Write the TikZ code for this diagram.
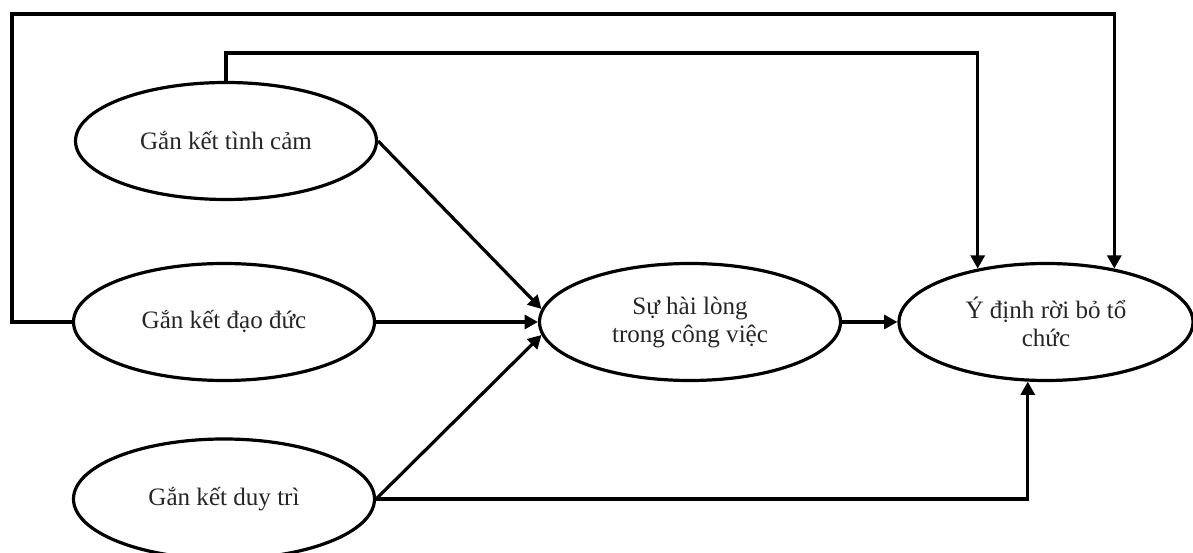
\documentclass[tikz,border=0pt]{standalone}
\usepackage{fontspec}
\setmainfont{Liberation Serif}
\usetikzlibrary{shapes.geometric,arrows.meta}
\begin{document}
\begin{tikzpicture}[x=0.75pt,y=0.75pt,
  line width=2.4pt,
  construct/.style={ellipse,draw,inner sep=0pt,minimum width=225.75pt,minimum height=87.75pt,
    align=center,font=\fontsize{18.8}{21}\selectfont,text=black!85},
  link/.style={-{Triangle[length=10pt,width=10.5pt]}}]
\useasboundingbox (0,0) rectangle (1193,553);
% constructs
\node[construct] (E1) at (226,412) {Gắn kết tình cảm};
\node[construct] (E2) at (224,231) {Gắn kết đạo đức};
\node[construct,minimum height=90pt] (E3) at (224,54) {Gắn kết duy trì};
\node[construct] (E4) at (690,231) {Sự hài lòng\\trong công việc};
\node[construct,minimum width=220.5pt] (E5) at (1046,231) {Ý định rời bỏ tổ\\chức};
% corners of the two direct paths over the top
\coordinate (outer) at (12,539);
\coordinate (inner) at (600,500);
% paths into job satisfaction
\draw[link] (E1.east) -- (E4.175);
\draw[link] (E2.east) -- (E4.west);
\draw[link] (E3.east) -- (E4.185);
% path into turnover intention
\draw[link] (E4.east) -- (E5.west);
\draw[link] (E3.east) -| (E5.253);
\draw[link] (E2.west) -| (outer) -| (E5.38);
\draw[link] (E1.north) |- (inner) -| (E5.142);
\end{tikzpicture}
\end{document}
